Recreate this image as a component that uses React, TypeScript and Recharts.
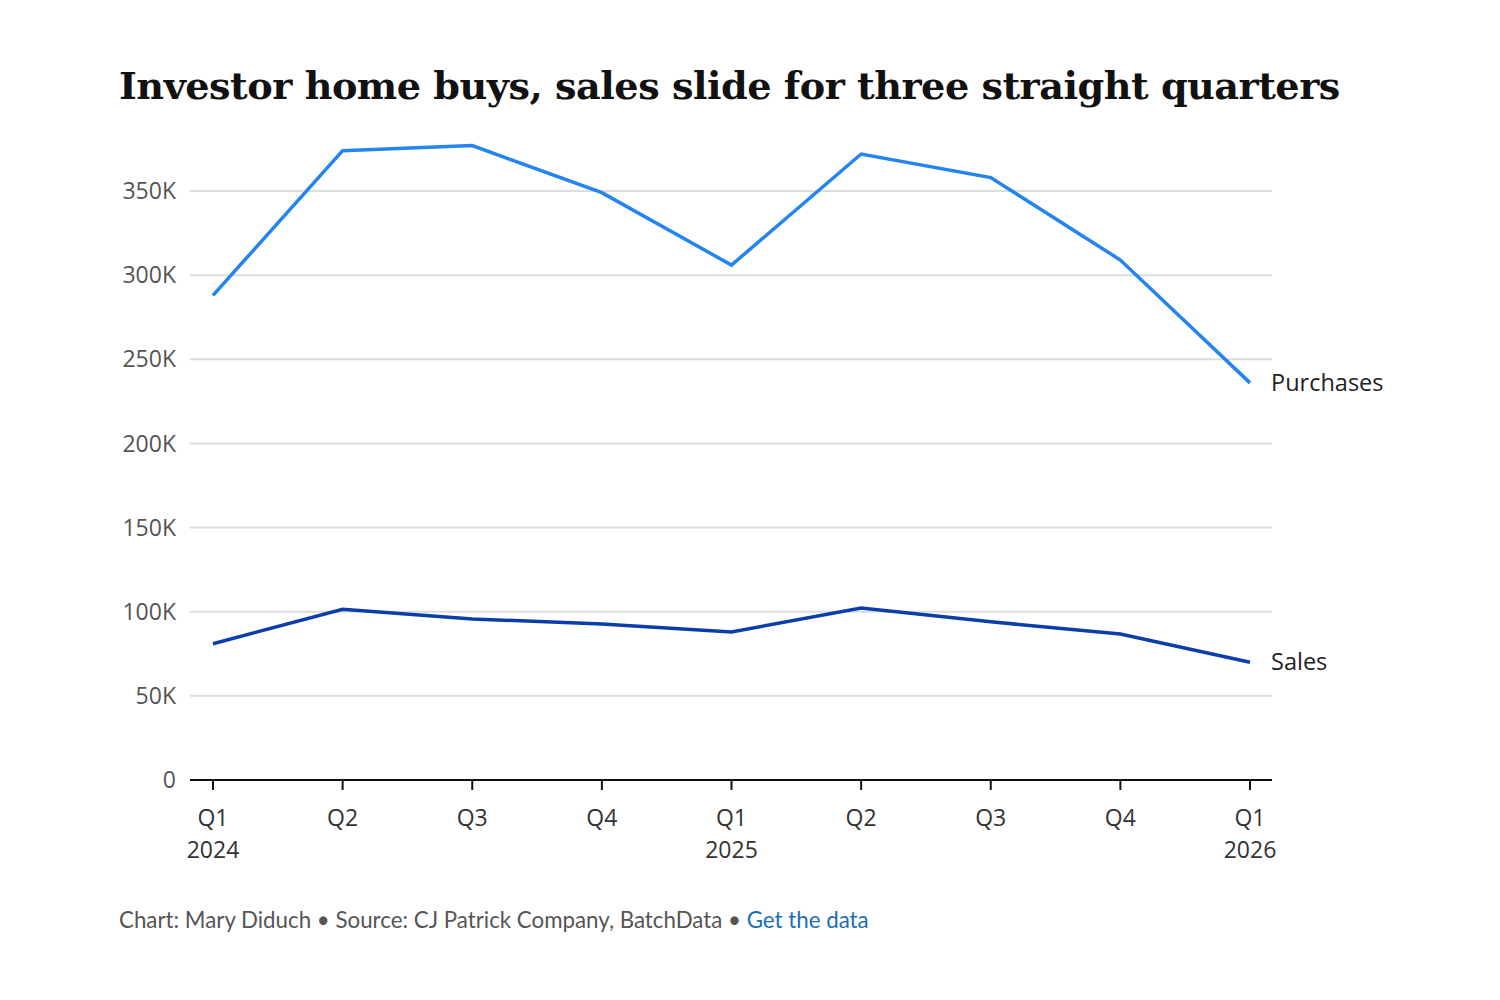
import React from "react";
import { LineChart, Line, XAxis, YAxis, CartesianGrid } from "recharts";

const quarters = ["Q1", "Q2", "Q3", "Q4", "Q1", "Q2", "Q3", "Q4", "Q1"];
const years = ["2024", "", "", "", "2025", "", "", "", "2026"];
const purchases = [288000, 374000, 377000, 349000, 306000, 372000, 358000, 309000, 236000];
const sales = [81000, 101500, 95700, 92700, 88000, 102200, 94000, 86800, 70000];
const yTicks = [0, 50000, 100000, 150000, 200000, 250000, 300000, 350000];
const seriesLabels = { purchases: "Purchases", sales: "Sales" };

const data = quarters.map((q, i) => ({
  key: i,
  q,
  year: years[i],
  purchases: purchases[i],
  sales: sales[i],
}));

const FONT = "'Open Sans', Lato, sans-serif";

const fmtY = (v: number) => (v === 0 ? "0" : `${v / 1000}K`);

const XTick = (props: any) => {
  const { x, y, payload } = props;
  const d = data[payload.value];
  return (
    <g transform={`translate(${x},${y})`}>
      <text x={0} y={0} dy={34} textAnchor="middle" fill="#333" fontSize={23} fontFamily={FONT}>
        {d.q}
      </text>
      {d.year ? (
        <text x={0} y={0} dy={66} textAnchor="middle" fill="#333" fontSize={23} fontFamily={FONT}>
          {d.year}
        </text>
      ) : null}
    </g>
  );
};

const endLabel = (text: string) => (props: any) => {
  const { x, y, index } = props;
  if (index !== data.length - 1) return null;
  return (
    <text x={x + 21} y={y} dy={8} fill="#222" fontSize={23.5} fontFamily={FONT}>
      {text}
    </text>
  );
};

export default function App() {
  return (
    <div style={{ position: "absolute", left: 0, top: 0, width: 1500, height: 1000, background: "#fff" }}>
      <div
        style={{
          position: "absolute",
          left: 119,
          top: 58,
          fontFamily: "'DejaVu Serif', serif",
          fontWeight: 700,
          fontSize: 38.2,
          color: "#111",
          whiteSpace: "nowrap",
          lineHeight: "56px",
          letterSpacing: -0.5,
        }}
      >
        Investor home buys, sales slide for three straight quarters
      </div>
      <div style={{ position: "absolute", left: 0, top: 0 }}>
        <LineChart
          width={1500}
          height={1000}
          data={data}
          margin={{ top: 106.9, right: 228, bottom: 140, left: 110 }}
        >
          <CartesianGrid
            vertical={false}
            stroke="#dcdcdc"
            strokeWidth={2}
            horizontalValues={yTicks.slice(1)}
          />
          <XAxis
            dataKey="key"
            type="category"
            padding={{ left: 23, right: 22 }}
            axisLine={{ stroke: "#111", strokeWidth: 2 }}
            tickLine={{ stroke: "#111", strokeWidth: 2 }}
            tickSize={10}
            tick={<XTick />}
            interval={0}
            height={80}
          />
          <YAxis
            domain={[0, 400000]}
            ticks={yTicks}
            tickFormatter={fmtY}
            axisLine={false}
            tickLine={false}
            width={80}
            tickMargin={8}
            tick={{ fill: "#555", fontSize: 23, fontFamily: FONT }}
          />
          <Line
            dataKey="purchases"
            stroke="#2484f0"
            strokeWidth={3.5}
            dot={false}
            isAnimationActive={false}
            label={endLabel(seriesLabels.purchases)}
          />
          <Line
            dataKey="sales"
            stroke="#0b3ea8"
            strokeWidth={3.5}
            dot={false}
            isAnimationActive={false}
            label={endLabel(seriesLabels.sales)}
          />
        </LineChart>
      </div>
      <div
        style={{
          position: "absolute",
          left: 119,
          top: 906,
          fontFamily: "Lato, sans-serif",
          fontSize: 22.3,
          color: "#555",
          whiteSpace: "nowrap",
        }}
      >
        Chart: Mary Diduch • Source: CJ Patrick Company, BatchData •{" "}
        <span style={{ color: "#1a6fb5" }}>Get the data</span>
      </div>
    </div>
  );
}
